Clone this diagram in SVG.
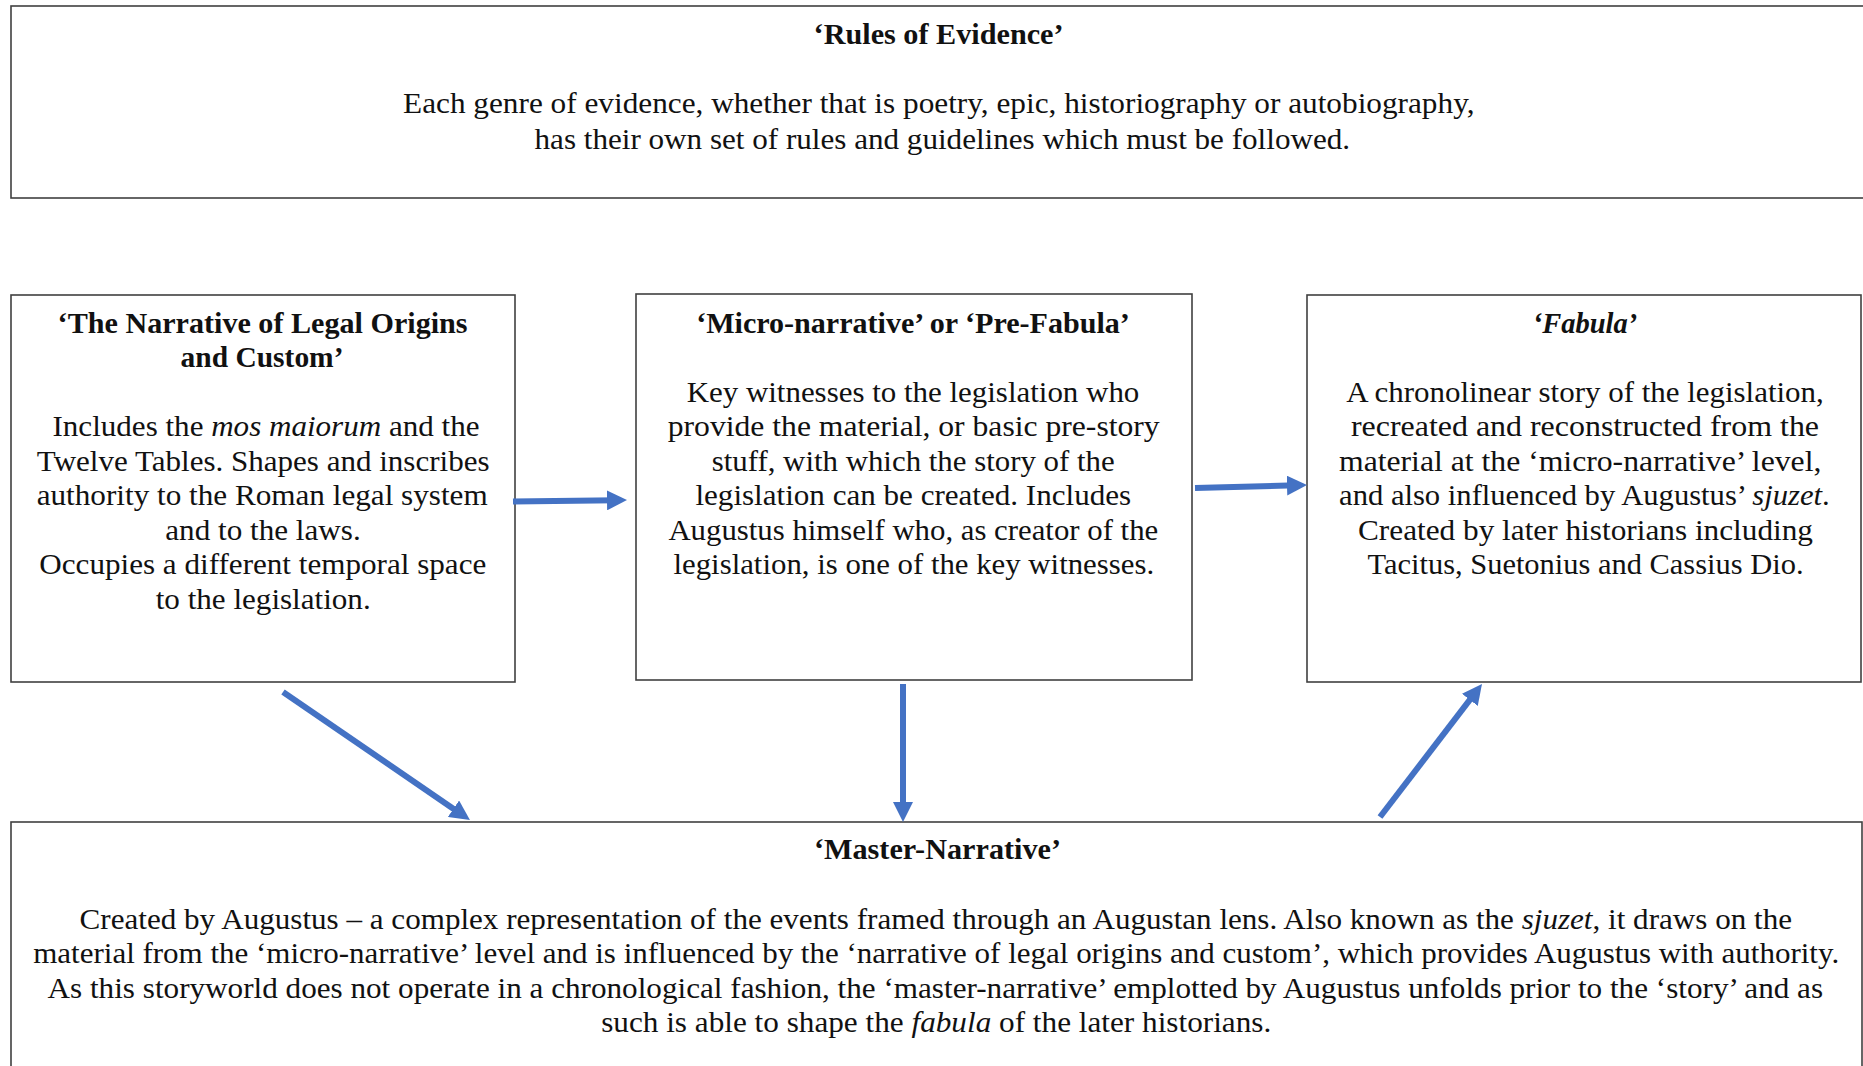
<svg xmlns="http://www.w3.org/2000/svg" width="1863" height="1066" viewBox="0 0 1863 1066">
<style>
.box{fill:#ffffff;stroke:#404040;stroke-width:1.6}
.t{font-family:"Liberation Serif","Times New Roman",serif;font-size:30px;fill:#111111;text-anchor:middle}
.b{font-weight:bold}
.i{font-style:italic}
.arr{stroke:#4472C4;stroke-width:6;fill:none;marker-end:url(#ah)}
</style>
<defs>
<marker id="ah" markerUnits="userSpaceOnUse" markerWidth="20" markerHeight="20" viewBox="0 0 20 20" refX="10" refY="10" orient="auto">
<path d="M0,0 L20,10 L0,20 Z" fill="#4472C4"/>
</marker>
</defs>
<rect width="1863" height="1066" fill="#ffffff"/>

<g id="rules-of-evidence">
<rect class="box" x="11" y="6" width="1870" height="192"/>
<text class="t b" x="938.6" y="44" textLength="250" lengthAdjust="spacingAndGlyphs">‘Rules of Evidence’</text>
<text class="t" x="938.8" y="113" textLength="1071.5" lengthAdjust="spacingAndGlyphs">Each genre of evidence, whether that is poetry, epic, historiography or autobiography,</text>
<text class="t" x="942.3" y="148.5" textLength="815.5" lengthAdjust="spacingAndGlyphs">has their own set of rules and guidelines which must be followed.</text>
</g>

<g id="legal-origins">
<rect class="box" x="11" y="295" width="504" height="387"/>
<text class="t b" x="262.6" y="333" textLength="410" lengthAdjust="spacingAndGlyphs">‘The Narrative of Legal Origins</text>
<text class="t b" x="262" y="367" textLength="163" lengthAdjust="spacingAndGlyphs">and Custom’</text>
<text class="t" x="266" y="436" textLength="427" lengthAdjust="spacingAndGlyphs">Includes the <tspan class="i">mos maiorum</tspan> and the</text>
<text class="t" x="263.2" y="470.5" textLength="452.7" lengthAdjust="spacingAndGlyphs">Twelve Tables. Shapes and inscribes</text>
<text class="t" x="262.2" y="505" textLength="451" lengthAdjust="spacingAndGlyphs">authority to the Roman legal system</text>
<text class="t" x="263" y="539.5" textLength="195.5" lengthAdjust="spacingAndGlyphs">and to the laws.</text>
<text class="t" x="262.8" y="574" textLength="447" lengthAdjust="spacingAndGlyphs">Occupies a different temporal space</text>
<text class="t" x="263.2" y="608.5" textLength="215" lengthAdjust="spacingAndGlyphs">to the legislation.</text>
</g>

<g id="micro-narrative">
<rect class="box" x="636" y="294" width="556" height="386"/>
<text class="t b" x="913" y="332.5" textLength="433.7" lengthAdjust="spacingAndGlyphs">‘Micro-narrative’ or ‘Pre-Fabula’</text>
<text class="t" x="913" y="401.5" textLength="452.7" lengthAdjust="spacingAndGlyphs">Key witnesses to the legislation who</text>
<text class="t" x="913.7" y="436" textLength="491.9" lengthAdjust="spacingAndGlyphs">provide the material, or basic pre-story</text>
<text class="t" x="913.2" y="470.5" textLength="403" lengthAdjust="spacingAndGlyphs">stuff, with which the story of the</text>
<text class="t" x="913.3" y="505" textLength="435.7" lengthAdjust="spacingAndGlyphs">legislation can be created. Includes</text>
<text class="t" x="913.3" y="539.5" textLength="489.8" lengthAdjust="spacingAndGlyphs">Augustus himself who, as creator of the</text>
<text class="t" x="913.8" y="574" textLength="480.6" lengthAdjust="spacingAndGlyphs">legislation, is one of the key witnesses.</text>
</g>

<g id="fabula">
<rect class="box" x="1307" y="295" width="554" height="387"/>
<text class="t b i" x="1585" y="332.5" textLength="104.6" lengthAdjust="spacingAndGlyphs">‘Fabula’</text>
<text class="t" x="1585" y="401.5" textLength="477.6" lengthAdjust="spacingAndGlyphs">A chronolinear story of the legislation,</text>
<text class="t" x="1585" y="436" textLength="468.1" lengthAdjust="spacingAndGlyphs">recreated and reconstructed from the</text>
<text class="t" x="1580.2" y="470.5" textLength="482.4" lengthAdjust="spacingAndGlyphs">material at the ‘micro-narrative’ level,</text>
<text class="t" x="1584.4" y="505" textLength="490.7" lengthAdjust="spacingAndGlyphs">and also influenced by Augustus’ <tspan class="i">sjuzet</tspan>.</text>
<text class="t" x="1585.5" y="539.5" textLength="455" lengthAdjust="spacingAndGlyphs">Created by later historians including</text>
<text class="t" x="1585.5" y="574" textLength="436" lengthAdjust="spacingAndGlyphs">Tacitus, Suetonius and Cassius Dio.</text>
</g>

<g id="master-narrative">
<rect class="box" x="11" y="822" width="1851" height="270"/>
<text class="t b" x="937.5" y="859" textLength="247.1" lengthAdjust="spacingAndGlyphs">‘Master-Narrative’</text>
<text class="t" x="935.8" y="928.5" textLength="1712.4" lengthAdjust="spacingAndGlyphs">Created by Augustus – a complex representation of the events framed through an Augustan lens. Also known as the <tspan class="i">sjuzet</tspan>, it draws on the</text>
<text class="t" x="936.2" y="963" textLength="1805.9" lengthAdjust="spacingAndGlyphs">material from the ‘micro-narrative’ level and is influenced by the ‘narrative of legal origins and custom’, which provides Augustus with authority.</text>
<text class="t" x="935.3" y="997.5" textLength="1775.5" lengthAdjust="spacingAndGlyphs">As this storyworld does not operate in a chronological fashion, the ‘master-narrative’ emplotted by Augustus unfolds prior to the ‘story’ and as</text>
<text class="t" x="936.2" y="1032" textLength="670.1" lengthAdjust="spacingAndGlyphs">such is able to shape the <tspan class="i">fabula</tspan> of the later historians.</text>
</g>

<g id="connectors">
<line class="arr" x1="513" y1="501.5" x2="617" y2="500.2"/>
<line class="arr" x1="1195" y1="488" x2="1297" y2="485.3"/>
<line class="arr" x1="903" y1="684" x2="903" y2="812"/>
<line class="arr" x1="283" y1="692" x2="461.7" y2="814.4"/>
<line class="arr" x1="1380" y1="817" x2="1475.9" y2="691.9"/>
</g>
</svg>
